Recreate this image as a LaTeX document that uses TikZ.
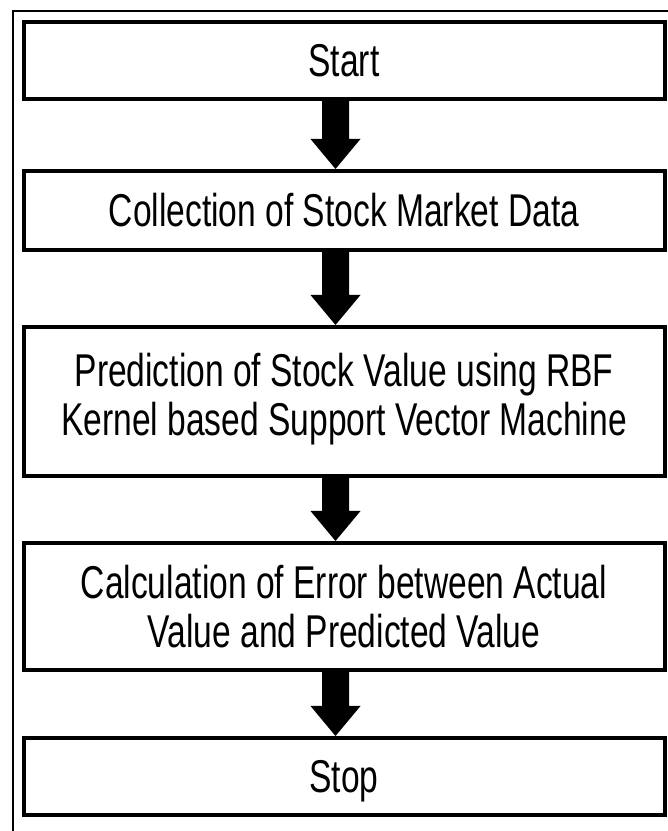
\documentclass[tikz,border=0pt]{standalone}
\usepackage{fontspec}
\setmainfont{Liberation Sans}[FakeStretch=0.73]
\usetikzlibrary{calc}

\begin{document}
\begin{tikzpicture}[x=1pt,y=1pt,
  stepbox/.style={draw=black, line width=4pt, fill=white,
    minimum width=641pt, inner sep=0pt, align=center,
    font=\fontsize{46}{49}\selectfont},
  flowarrow/.style={fill=black}
]
\useasboundingbox (0,0) rectangle (668,831);
\clip (0,0) rectangle (668,831);
\fill[white] (0,0) rectangle (668,831);

% outer frame, running off the right and bottom edges
\draw[line width=2pt] (12.5,-20) rectangle (700,819.5);

% process steps
\node[stepbox, minimum height=77pt] (start) at (344,770.5) {Start};
\node[stepbox, minimum height=79pt] (collect) at (344,620.5) {Collection of Stock Market Data};
\node[stepbox, minimum height=149pt] (predict) at (344,429.5)
  {\raisebox{3pt}{\begin{tabular}{@{}c@{}}Prediction of Stock Value using RBF\\
   Kernel based Support Vector Machine\end{tabular}}};
\node[stepbox, minimum height=127pt] (calc) at (344,224.5)
  {Calculation of Error between Actual\\Value and Predicted Value};
\node[stepbox, minimum height=77pt, text depth=0pt] (stop) at (344,54.5) {Stop};

% block arrows between consecutive steps
\foreach \a/\b in {start/collect, collect/predict, predict/calc, calc/stop}{
  \fill[flowarrow] let \p1=(\a.south), \p2=(\b.north) in
    (\x1-22,\y1) -- (\x1+5,\y1) -- (\x1+5,\y2+30) -- (\x1+16.5,\y2+30)
    -- (\x1-8.5,\y2) -- (\x1-33.5,\y2+30) -- (\x1-22,\y2+30) -- cycle;
}
\end{tikzpicture}
\end{document}
